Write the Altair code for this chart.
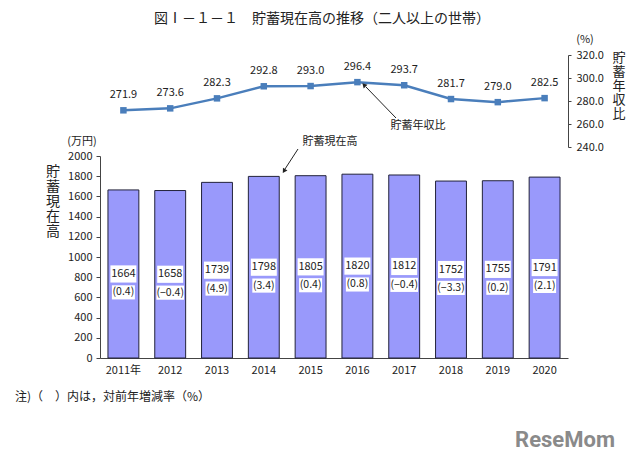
import altair as alt
import pandas as pd

FONT = "Noto Sans CJK JP"

years = ["2011年", "2012", "2013", "2014", "2015", "2016", "2017", "2018", "2019", "2020"]
savings = [1664, 1658, 1739, 1798, 1805, 1820, 1812, 1752, 1755, 1791]
changes = ["(0.4)", "(−0.4)", "(4.9)", "(3.4)", "(0.4)", "(0.8)", "(−0.4)", "(−3.3)", "(0.2)", "(2.1)"]
ratio = [271.9, 273.6, 282.3, 292.8, 293.0, 296.4, 293.7, 281.7, 279.0, 282.5]

df = pd.DataFrame({"year": years, "savings": savings, "change": changes, "ratio": ratio})

xenc = alt.X(
    "year:N", sort=years,
    scale=alt.Scale(paddingInner=0.34, paddingOuter=0.17),
    axis=alt.Axis(title=None, labelAngle=0, ticks=False, domainColor="#444",
                  labelFontSize=11, labelColor="#222", labelPadding=6, labelFont=FONT),
)
ybar_scale = alt.Scale(domain=[0, 2000], range=[303, 101], nice=False)
ybar_axis = alt.Axis(values=list(range(0, 2001, 200)), format="d", title=None, grid=False,
                     tickSize=4, domainColor="#444", tickColor="#444",
                     labelFontSize=11, labelColor="#222", labelFont=FONT, labelPadding=4)

base = alt.Chart(df).transform_calculate(
    half="datum.savings / 2",
    vtop="datum.savings / 2 + 85",
    vbot="datum.savings / 2 - 85",
    pc="datum.savings / 2 - 182",
    ptop="datum.savings / 2 - 182 + 70",
    pbot="datum.savings / 2 - 182 - 70",
    boxw="26",
    boxw2="length(datum.change) * 4.6",
)

bars = base.mark_bar(color="#9999fb", stroke="#22223a", strokeWidth=1).encode(
    x=xenc,
    y=alt.Y("savings:Q", scale=ybar_scale, axis=ybar_axis),
)
box1 = base.mark_bar(color="white").encode(
    x=xenc,
    y=alt.Y("vtop:Q", scale=ybar_scale, axis=ybar_axis),
    y2="vbot:Q",
    size=alt.Size("boxw:Q", scale=None, legend=None),
)
box2 = base.mark_bar(color="white").encode(
    x=xenc,
    y=alt.Y("ptop:Q", scale=ybar_scale, axis=ybar_axis),
    y2="pbot:Q",
    size=alt.Size("boxw2:Q", scale=None, legend=None),
)
t1 = base.mark_text(font=FONT, fontSize=11, color="#222", baseline="middle").encode(
    x=xenc, y=alt.Y("half:Q", scale=ybar_scale, axis=ybar_axis), text="savings:Q")
t2 = base.mark_text(font=FONT, fontSize=10.5, color="#222", baseline="middle").encode(
    x=xenc, y=alt.Y("pc:Q", scale=ybar_scale, axis=ybar_axis), text="change:N")

bar_layer = alt.layer(bars, box1, box2, t1, t2)

yline_scale = alt.Scale(domain=[240, 320], range=[92, 0], nice=False, zero=False)
yline_axis = alt.Axis(orient="right", values=[240, 260, 280, 300, 320], format=".1f",
                      title=None, grid=False, tickSize=3, domainColor="#444",
                      tickColor="#444", labelFontSize=11, labelColor="#222",
                      labelFont=FONT, labelPadding=5)
LC = "#4a7ebb"
line = alt.Chart(df).mark_line(color=LC, strokeWidth=2.5).encode(
    x=xenc, y=alt.Y("ratio:Q", scale=yline_scale, axis=yline_axis))
pts = alt.Chart(df).mark_point(shape="square", filled=True, size=42, color=LC, opacity=1).encode(
    x=xenc, y=alt.Y("ratio:Q", scale=yline_scale, axis=yline_axis))
lbl = alt.Chart(df).mark_text(font=FONT, fontSize=11, color="#222", dy=-15).encode(
    x=xenc, y=alt.Y("ratio:Q", scale=yline_scale, axis=yline_axis),
    text=alt.Text("ratio:Q", format=".1f"))

line_layer = alt.layer(line, pts, lbl)

one = pd.DataFrame({"a": [0]})


def txt(s, x, y, size=12, align="center", baseline="middle", weight="normal", color="#222", font=FONT, lh=None):
    kw = dict(font=font, fontSize=size, align=align, baseline=baseline, fontWeight=weight, color=color)
    if lh is not None:
        kw["lineBreak"] = "\n"
        kw["lineHeight"] = lh
    return alt.Chart(one).mark_text(**kw).encode(x=alt.value(x), y=alt.value(y), text=alt.value(s))


title = txt("図Ⅰ－１－１　貯蓄現在高の推移（二人以上の世帯）", 222, -36, size=14)
pct_unit = txt("(%)", 485, -15, size=11)
yen_unit = txt("(万円)", -18, 87, size=11)
vt_right = txt("貯\n蓄\n年\n収\n比", 519, -3, size=13, baseline="top", lh=14)
vt_left = txt("貯\n蓄\n現\n在\n高", -47, 110, size=14, baseline="top", lh=15)
ann1 = txt("貯蓄現在高", 230, 87, size=11)
ann2 = txt("貯蓄年収比", 318, 71, size=11)
foot = txt("注)（　）内は，対前年増減率（%）", -85, 342, size=12, align="left")
wm = txt("ReseMom", 515, 385, size=22, align="right", weight="bold", color="#8a8a8a", font="Roboto")

arr1 = alt.Chart(one).mark_rule(color="#222", strokeWidth=1).encode(
    x=alt.value(198), y=alt.value(94), x2=alt.value(185), y2=alt.value(114))
head1 = alt.Chart(one).mark_point(shape="triangle-up", filled=True, size=28, color="#222", opacity=1,
                                  angle=212).encode(x=alt.value(184), y=alt.value(116))
arr2 = alt.Chart(one).mark_rule(color="#222", strokeWidth=1).encode(
    x=alt.value(296), y=alt.value(63), x2=alt.value(266), y2=alt.value(32))
head2 = alt.Chart(one).mark_point(shape="triangle-up", filled=True, size=28, color="#222", opacity=1,
                                  angle=316).encode(x=alt.value(264), y=alt.value(30))

chart = alt.layer(
    bar_layer, line_layer,
    title, pct_unit, yen_unit, vt_right, vt_left, ann1, ann2, foot, wm,
    arr1, head1, arr2, head2,
).resolve_scale(y="independent").properties(
    width=468, height=303,
    padding={"left": 92, "top": 47, "right": 64, "bottom": 98},
    autosize=alt.AutoSizeParams(type="none"),
    background="white",
).configure_view(stroke=None)

chart.save("out.html", embed_options={"renderer": "svg", "actions": False})
